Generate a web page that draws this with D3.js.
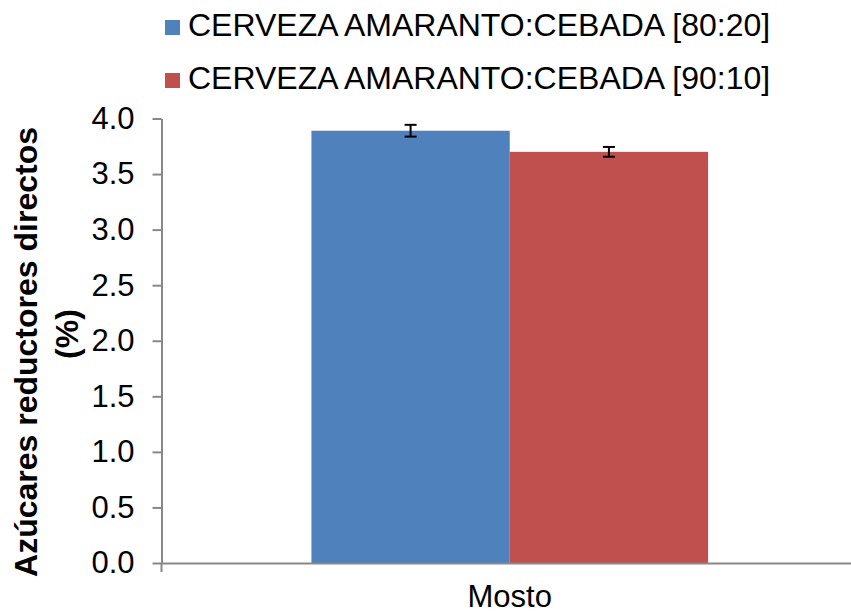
<!DOCTYPE html>
<html>
<head>
<meta charset="utf-8">
<script src="https://cdn.jsdelivr.net/npm/d3@7"></script>
<style>
  body { margin: 0; background: #fff; }
  text { font-family: Arial, "Liberation Sans", sans-serif; fill: #000; }
</style>
</head>
<body>
<div id="chart"></div>
<script>
var categories = ['Mosto'];
var seriesNames = ['CERVEZA AMARANTO:CEBADA [80:20]', 'CERVEZA AMARANTO:CEBADA [90:10]'];
var seriesColors = ['#4F81BD', '#C0504D'];
var values80 = [3.89];
var values90 = [3.70];
var errors80 = [0.053];
var errors90 = [0.044];
var yTicks = [0, 0.5, 1, 1.5, 2, 2.5, 3, 3.5, 4];

var width = 851;
var height = 613;

var svg = d3.select('#chart')
    .append('svg')
    .attr('width', width)
    .attr('height', height);

var plotLeft = 161.5, plotRight = 858, plotTop = 118.5, plotBottom = 563;

var y = d3.scaleLinear().domain([0, 4]).range([plotBottom, plotTop]);

var x0 = d3.scaleBand()
    .domain(categories)
    .range([plotLeft, plotRight])
    .paddingInner(0)
    .paddingOuter(0.378);

var x1 = d3.scaleBand()
    .domain(seriesNames)
    .range([0, x0.bandwidth()]);

var rows = [];
categories.forEach(function (c, i) {
    rows.push({ cat: c, name: seriesNames[0], v: values80[i], e: errors80[i], color: seriesColors[0] });
    rows.push({ cat: c, name: seriesNames[1], v: values90[i], e: errors90[i], color: seriesColors[1] });
});

// bars
svg.selectAll('rect.bar')
    .data(rows)
    .enter()
    .append('rect')
    .attr('class', 'bar')
    .attr('x', function (d) { return x0(d.cat) + x1(d.name); })
    .attr('width', x1.bandwidth())
    .attr('y', function (d) { return y(d.v); })
    .attr('height', function (d) { return y(0) - y(d.v); })
    .attr('fill', function (d) { return d.color; });

// error bars
var err = svg.selectAll('g.err')
    .data(rows)
    .enter()
    .append('g')
    .attr('class', 'err')
    .attr('stroke', '#000')
    .attr('stroke-width', 2);

var cx = function (d) { return x0(d.cat) + x1(d.name) + x1.bandwidth() / 2; };
err.append('line')
    .attr('x1', cx).attr('x2', cx)
    .attr('y1', function (d) { return y(d.v + d.e); })
    .attr('y2', function (d) { return y(d.v - d.e); });
err.append('line')
    .attr('x1', function (d) { return cx(d) - 6; })
    .attr('x2', function (d) { return cx(d) + 6; })
    .attr('y1', function (d) { return y(d.v + d.e); })
    .attr('y2', function (d) { return y(d.v + d.e); });
err.append('line')
    .attr('x1', function (d) { return cx(d) - 6; })
    .attr('x2', function (d) { return cx(d) + 6; })
    .attr('y1', function (d) { return y(d.v - d.e); })
    .attr('y2', function (d) { return y(d.v - d.e); });

// y axis
var yAxis = d3.axisLeft(y)
    .tickValues(yTicks)
    .tickFormat(d3.format('.1f'))
    .tickSize(9)
    .tickPadding(18)
    .tickSizeOuter(0);

var gy = svg.append('g')
    .attr('transform', 'translate(' + plotLeft + ',0)')
    .call(yAxis);
gy.select('.domain').attr('stroke', '#888').attr('stroke-width', 2);
gy.selectAll('.tick line').attr('stroke', '#888').attr('stroke-width', 2);
gy.selectAll('.tick text')
    .attr('font-size', 31)
    .attr('font-family', 'Arial, "Liberation Sans", sans-serif')
    .attr('fill', '#000');

// x axis
var xAxis = d3.axisBottom(x0)
    .tickSize(0)
    .tickPadding(22)
    .tickSizeOuter(0);

var gx = svg.append('g')
    .attr('transform', 'translate(0,' + plotBottom + ')')
    .call(xAxis);
gx.select('.domain').attr('stroke', '#888').attr('stroke-width', 2);
gx.selectAll('.tick text')
    .attr('font-size', 31)
    .attr('font-family', 'Arial, "Liberation Sans", sans-serif')
    .attr('fill', '#000');

gx.append('line')
    .attr('x1', plotLeft).attr('x2', plotLeft)
    .attr('y1', 0).attr('y2', 9)
    .attr('stroke', '#888').attr('stroke-width', 2);

// y title
svg.append('text')
    .attr('transform', 'translate(37,352) rotate(-90)')
    .attr('text-anchor', 'middle')
    .attr('font-size', 32)
    .attr('font-weight', 'bold')
    .text('Azúcares reductores directos');
svg.append('text')
    .attr('transform', 'translate(78,334) rotate(-90)')
    .attr('text-anchor', 'middle')
    .attr('font-size', 32)
    .attr('font-weight', 'bold')
    .text('(%)');

// legend
var legend = svg.selectAll('g.legend')
    .data(seriesNames)
    .enter()
    .append('g')
    .attr('class', 'legend')
    .attr('transform', function (d, i) { return 'translate(165,' + (36 + i * 53) + ')'; });

legend.append('rect')
    .attr('x', 0)
    .attr('y', -16)
    .attr('width', 15)
    .attr('height', 15)
    .attr('fill', function (d, i) { return seriesColors[i]; });

legend.append('text')
    .attr('x', 23)
    .attr('y', 0)
    .attr('font-size', 32)
    .text(function (d) { return d; });
</script>
</body>
</html>
